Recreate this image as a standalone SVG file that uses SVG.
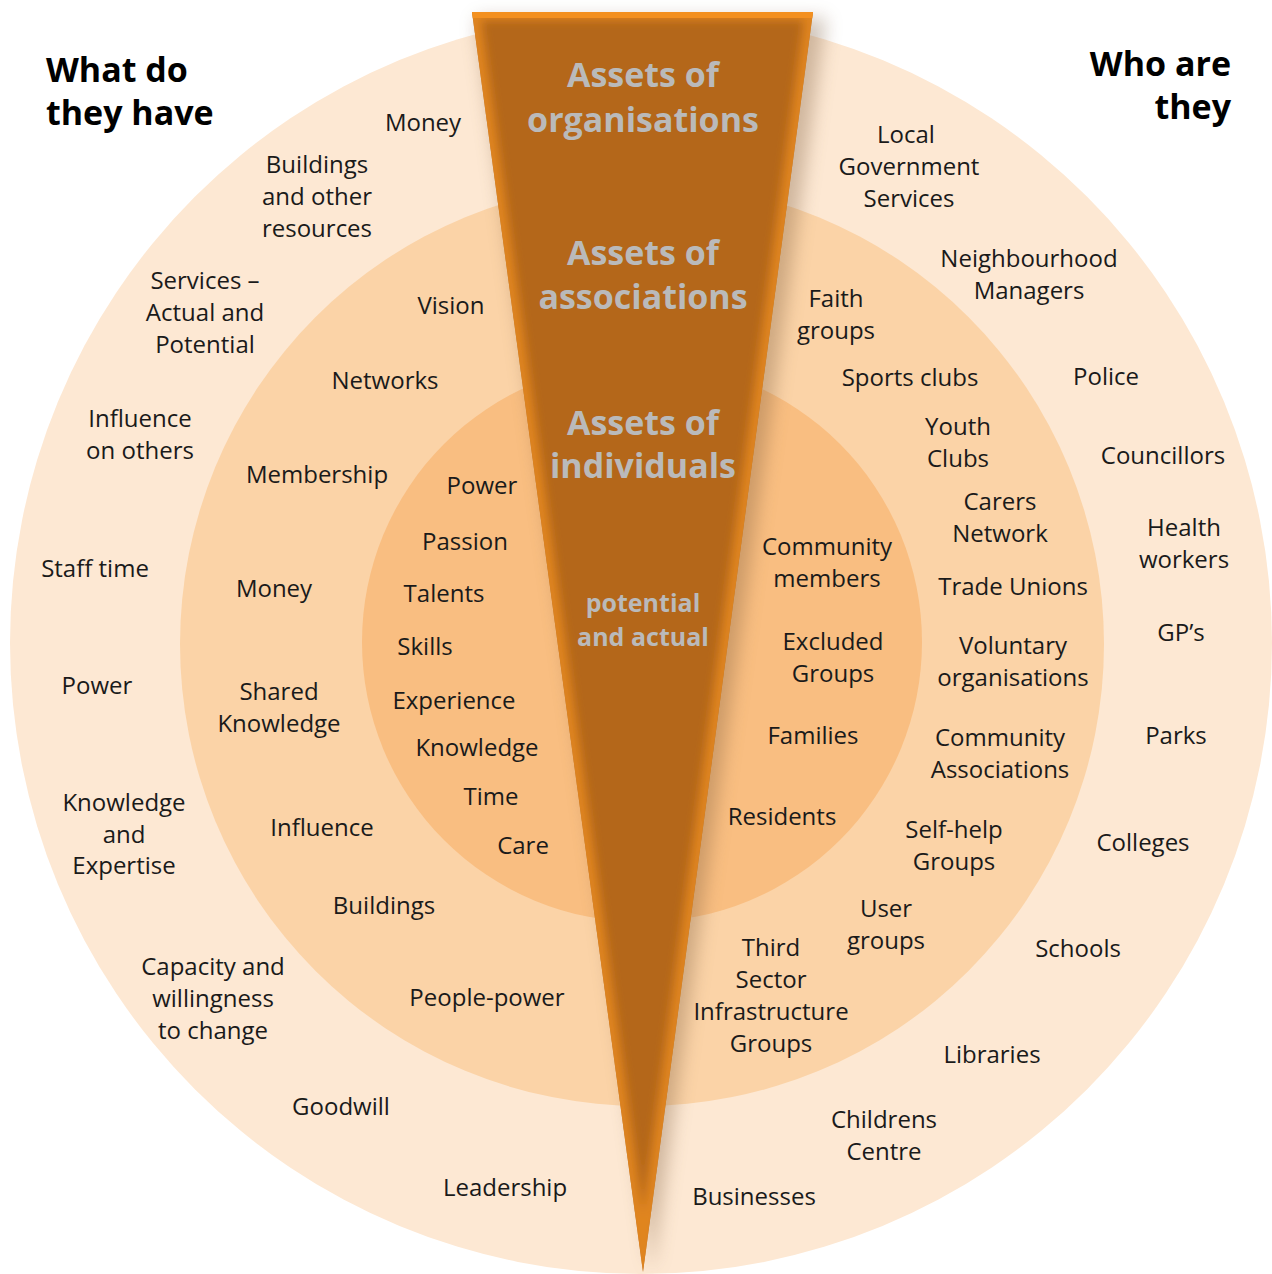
<svg xmlns="http://www.w3.org/2000/svg" width="1272" height="1274" viewBox="0 0 1272 1274">
<style>
.t{font-family:"Open Sans","Noto Sans",sans-serif;font-size:24px;fill:#1a1a1a;text-anchor:middle}
.h{font-family:"Open Sans","Noto Sans",sans-serif;font-size:34px;font-weight:bold;fill:#000}
.w{font-family:"Open Sans","Noto Sans",sans-serif;font-size:34px;font-weight:bold;fill:#BABABA;text-anchor:middle}
.ws{font-family:"Open Sans","Noto Sans",sans-serif;font-size:25px;font-weight:bold;fill:#BABABA;text-anchor:middle}
</style>
<defs>
<filter id="blur8" x="-50%" y="-10%" width="200%" height="120%"><feGaussianBlur stdDeviation="9"/></filter>
<filter id="blur4" x="-20%" y="-5%" width="140%" height="110%"><feGaussianBlur stdDeviation="5"/></filter>
<clipPath id="wc"><polygon points="472,12 813,12 643,1272"/></clipPath>
</defs>
<rect width="1272" height="1274" fill="#fff"/>
<g id="rings">
<circle cx="641" cy="643" r="631" fill="#FDE8D3"/>
<circle cx="642" cy="644" r="462" fill="#FBD3A7"/>
<circle cx="642" cy="642" r="280" fill="#F9BE81"/>
</g>
<g id="wedge">
<polygon points="476,18 826,18 652,1272" fill="#7a5a3a" opacity="0.35" filter="url(#blur8)"/>
<polygon points="472,12 813,12 643,1272" fill="#B4671A"/>
<g clip-path="url(#wc)">
<polygon points="472,12 813,12 643,1272" fill="none" stroke="#E8891F" stroke-width="16" stroke-opacity="0.85" filter="url(#blur4)"/>
<rect x="460" y="11" width="360" height="7" fill="#F3901F"/>
</g>
</g>
<g id="titles">
<text class="h" x="46" y="82">What do</text>
<text class="h" x="46" y="125">they have</text>
<text class="h" x="1231" y="76" text-anchor="end">Who are</text>
<text class="h" x="1231" y="119" text-anchor="end">they</text>
</g>
<g id="wedge-labels">
<g id="w-org"><text class="w" x="643" y="87">Assets of</text><text class="w" x="643" y="132">organisations</text></g>
<g id="w-assoc"><text class="w" x="643" y="265">Assets of</text><text class="w" x="643" y="309">associations</text></g>
<g id="w-ind"><text class="w" x="643" y="435">Assets of</text><text class="w" x="643" y="478">individuals</text></g>
<g id="w-pot"><text class="ws" x="643" y="612">potential</text><text class="ws" x="643" y="646">and actual</text></g>
</g>
<g id="left-outer">
<g id="lo1"><text class="t" x="423" y="131">Money</text></g>
<g id="lo2"><text class="t" x="317" y="173">Buildings</text><text class="t" x="317" y="205">and other</text><text class="t" x="317" y="237">resources</text></g>
<g id="lo3"><text class="t" x="205" y="289">Services –</text><text class="t" x="205" y="321">Actual and</text><text class="t" x="205" y="353">Potential</text></g>
<g id="lo4"><text class="t" x="140" y="427">Influence</text><text class="t" x="140" y="459">on others</text></g>
<g id="lo5"><text class="t" x="95" y="577">Staff time</text></g>
<g id="lo6"><text class="t" x="97" y="694">Power</text></g>
<g id="lo7"><text class="t" x="124" y="811">Knowledge</text><text class="t" x="124" y="843">and</text><text class="t" x="124" y="874">Expertise</text></g>
<g id="lo8"><text class="t" x="213" y="975">Capacity and</text><text class="t" x="213" y="1007">willingness</text><text class="t" x="213" y="1039">to change</text></g>
<g id="lo9"><text class="t" x="341" y="1115">Goodwill</text></g>
<g id="lo10"><text class="t" x="505" y="1196">Leadership</text></g>
</g>
<g id="left-middle">
<g id="lm1"><text class="t" x="451" y="314">Vision</text></g>
<g id="lm2"><text class="t" x="385" y="389">Networks</text></g>
<g id="lm3"><text class="t" x="317" y="483">Membership</text></g>
<g id="lm4"><text class="t" x="274" y="597">Money</text></g>
<g id="lm5"><text class="t" x="279" y="700">Shared</text><text class="t" x="279" y="732">Knowledge</text></g>
<g id="lm6"><text class="t" x="322" y="836">Influence</text></g>
<g id="lm7"><text class="t" x="384" y="914">Buildings</text></g>
<g id="lm8"><text class="t" x="487" y="1006">People-power</text></g>
</g>
<g id="left-inner">
<g id="li1"><text class="t" x="482" y="494">Power</text></g>
<g id="li2"><text class="t" x="465" y="550">Passion</text></g>
<g id="li3"><text class="t" x="444" y="602">Talents</text></g>
<g id="li4"><text class="t" x="425" y="655">Skills</text></g>
<g id="li5"><text class="t" x="454" y="709">Experience</text></g>
<g id="li6"><text class="t" x="477" y="756">Knowledge</text></g>
<g id="li7"><text class="t" x="491" y="805">Time</text></g>
<g id="li8"><text class="t" x="523" y="854">Care</text></g>
</g>
<g id="right-inner">
<g id="ri1"><text class="t" x="827" y="555">Community</text><text class="t" x="827" y="587">members</text></g>
<g id="ri2"><text class="t" x="833" y="650">Excluded</text><text class="t" x="833" y="682">Groups</text></g>
<g id="ri3"><text class="t" x="813" y="744">Families</text></g>
<g id="ri4"><text class="t" x="782" y="825">Residents</text></g>
</g>
<g id="right-middle">
<g id="rm1"><text class="t" x="836" y="307">Faith</text><text class="t" x="836" y="339">groups</text></g>
<g id="rm2"><text class="t" x="910" y="386">Sports clubs</text></g>
<g id="rm3"><text class="t" x="958" y="435">Youth</text><text class="t" x="958" y="467">Clubs</text></g>
<g id="rm4"><text class="t" x="1000" y="510">Carers</text><text class="t" x="1000" y="542">Network</text></g>
<g id="rm5"><text class="t" x="1013" y="595">Trade Unions</text></g>
<g id="rm6"><text class="t" x="1013" y="654">Voluntary</text><text class="t" x="1013" y="686">organisations</text></g>
<g id="rm7"><text class="t" x="1000" y="746">Community</text><text class="t" x="1000" y="778">Associations</text></g>
<g id="rm8"><text class="t" x="954" y="838">Self-help</text><text class="t" x="954" y="870">Groups</text></g>
<g id="rm9"><text class="t" x="886" y="917">User</text><text class="t" x="886" y="949">groups</text></g>
<g id="rm10"><text class="t" x="771" y="956">Third</text><text class="t" x="771" y="988">Sector</text><text class="t" x="771" y="1020">Infrastructure</text><text class="t" x="771" y="1052">Groups</text></g>
</g>
<g id="right-outer">
<g id="ro1"><text class="t" x="906" y="143">Local</text><text class="t" x="909" y="175">Government</text><text class="t" x="909" y="207">Services</text></g>
<g id="ro2"><text class="t" x="1029" y="267">Neighbourhood</text><text class="t" x="1029" y="299">Managers</text></g>
<g id="ro3"><text class="t" x="1106" y="385">Police</text></g>
<g id="ro4"><text class="t" x="1163" y="464">Councillors</text></g>
<g id="ro5"><text class="t" x="1184" y="536">Health</text><text class="t" x="1184" y="568">workers</text></g>
<g id="ro6"><text class="t" x="1181" y="641">GP’s</text></g>
<g id="ro7"><text class="t" x="1176" y="744">Parks</text></g>
<g id="ro8"><text class="t" x="1143" y="851">Colleges</text></g>
<g id="ro9"><text class="t" x="1078" y="957">Schools</text></g>
<g id="ro10"><text class="t" x="992" y="1063">Libraries</text></g>
<g id="ro11"><text class="t" x="884" y="1128">Childrens</text><text class="t" x="884" y="1160">Centre</text></g>
<g id="ro12"><text class="t" x="754" y="1205">Businesses</text></g>
</g>
</svg>
